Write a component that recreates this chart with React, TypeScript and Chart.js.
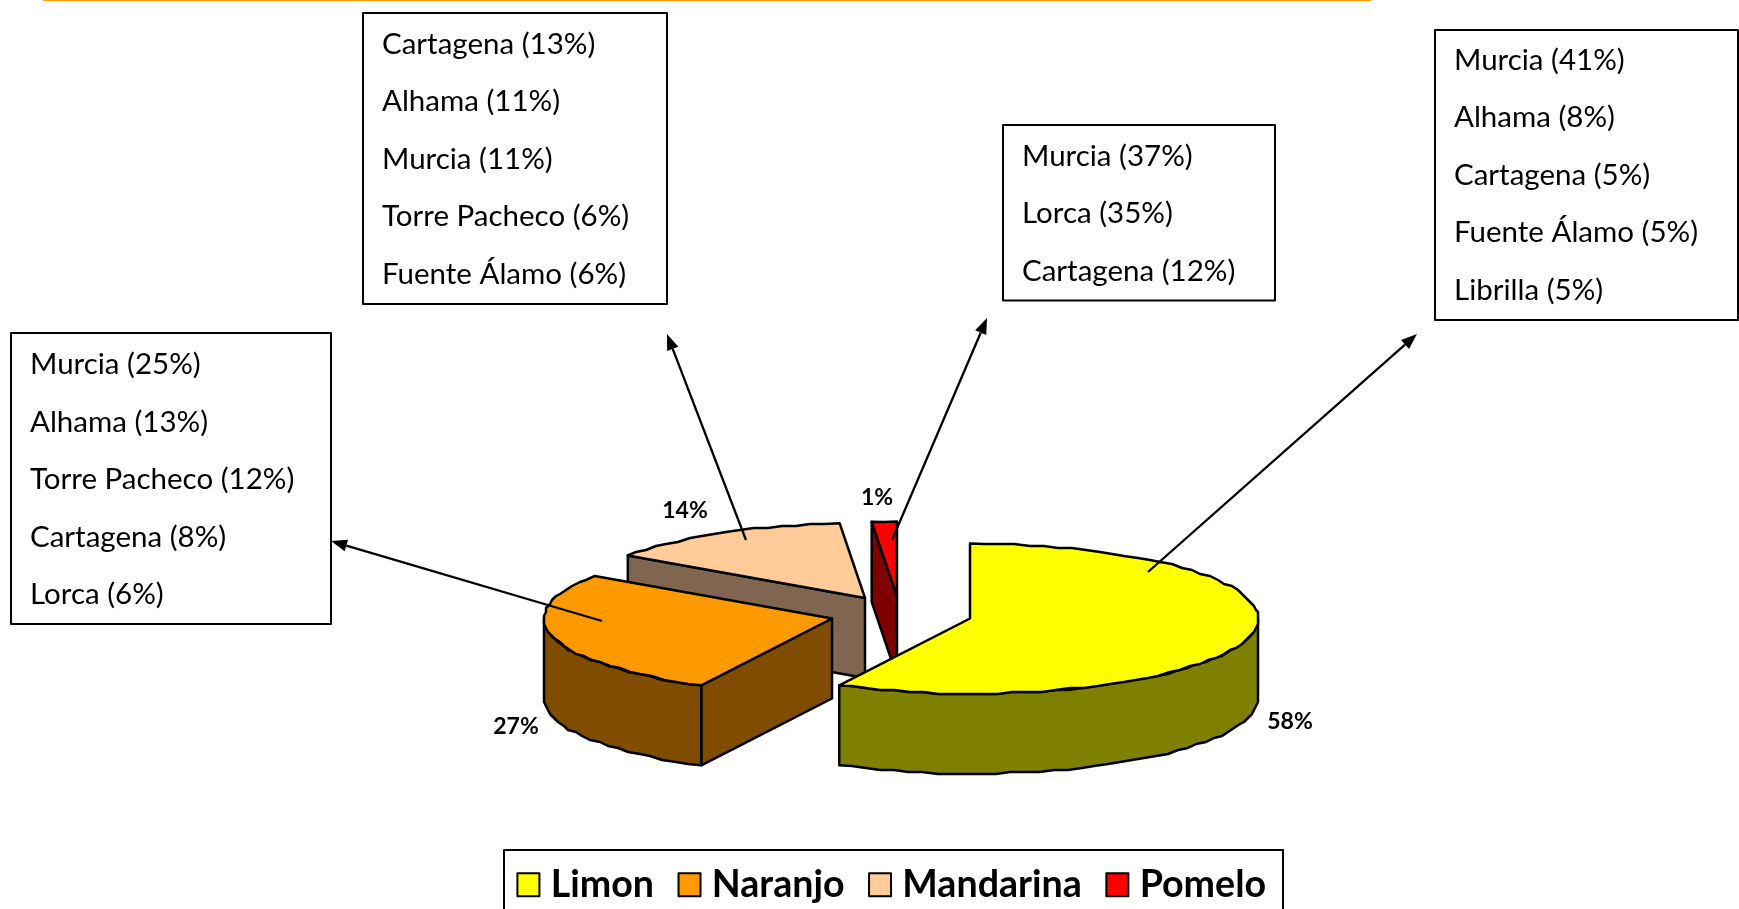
import React, { useEffect, useRef } from "react";
import { Chart, registerables } from "chart.js";

Chart.register(...registerables);

const categories = ["Limon", "Naranjo", "Mandarina", "Pomelo"];
const shares = [57.5, 27.1, 14, 1.4];
const topColors = ["#FFFF00", "#FF9900", "#FFCC99", "#FF0000"];
const wallColors = ["#808000", "#804D00", "#806650", "#800000"];

const limonTowns = ["Murcia (41%)", "Alhama (8%)", "Cartagena (5%)", "Fuente Álamo (5%)", "Librilla (5%)"];
const naranjoTowns = ["Murcia (25%)", "Alhama (13%)", "Torre Pacheco (12%)", "Cartagena (8%)", "Lorca (6%)"];
const mandarinaTowns = ["Cartagena (13%)", "Alhama (11%)", "Murcia (11%)", "Torre Pacheco (6%)", "Fuente Álamo (6%)"];
const pomeloTowns = ["Murcia (37%)", "Lorca (35%)", "Cartagena (12%)"];

const FONT = "Lato, Carlito, sans-serif";
const RADIUS = 288;
const SQUASH = 75 / 288;
const DEPTH = 80;

// Layout of each slice on the page
const sliceCentres = [
  [970, 618.5],
  [832, 618.5],
  [865, 598],
  [897, 596.5],
];
const valueLabelPos = [
  [1290, 722],
  [516, 726.5],
  [685, 510.5],
  [877, 498],
];
const paintOrder = [2, 3, 1, 0];

const callouts = [
  { lines: limonTowns, box: [1435, 30, 1738, 320], first: 60, from: [1148, 572], to: [1417, 334] },
  { lines: naranjoTowns, box: [11, 333, 331, 624], first: 364.5, from: [602, 621], to: [331, 541] },
  { lines: mandarinaTowns, box: [363, 13, 667, 304], first: 44, from: [746, 540], to: [667, 334] },
  { lines: pomeloTowns, box: [1003, 125, 1275, 300.5], first: 156, from: [892, 540], to: [987, 318] },
];
const LINE_STEP = 57.5;

function rimPoints(cx: number, cy: number, a0: number, a1: number) {
  const pts: number[][] = [];
  const n = Math.max(1, Math.ceil((a1 - a0) / (Math.PI / 60)));
  for (let i = 0; i <= n; i++) {
    const a = a0 + ((a1 - a0) * i) / n;
    let x = cx + RADIUS * Math.cos(a);
    let y = cy + RADIUS * SQUASH * Math.sin(a);
    if (i > 0 && i < n) {
      x = Math.round(x / 2) * 2;
      y = Math.round(y / 2) * 2;
    }
    pts.push([x, y]);
  }
  return pts;
}

function tracePoly(ctx: CanvasRenderingContext2D, pts: number[][], fill: string | null) {
  ctx.beginPath();
  pts.forEach((p, i) => (i ? ctx.lineTo(p[0], p[1]) : ctx.moveTo(p[0], p[1])));
  ctx.closePath();
  if (fill) {
    ctx.fillStyle = fill;
    ctx.fill();
  }
  ctx.strokeStyle = "#000";
  ctx.lineWidth = 2.5;
  ctx.lineJoin = "round";
  ctx.stroke();
}

function drawSlice(ctx: CanvasRenderingContext2D, arc: any, i: number) {
  const [cx, cy] = sliceCentres[i];
  const s = arc.startAngle;
  const e = arc.endAngle;
  const down = (p: number[]) => [p[0], p[1] + DEPTH];
  const at = (a: number) => [cx + RADIUS * Math.cos(a), cy + RADIUS * SQUASH * Math.sin(a)];

  // radial walls that face the viewer
  if (Math.cos(s) < -1e-6) {
    const p = at(s);
    tracePoly(ctx, [[cx, cy], p, down(p), [cx, cy + DEPTH]], wallColors[i]);
  }
  if (Math.cos(e) > 1e-6) {
    const p = at(e);
    tracePoly(ctx, [[cx, cy], p, down(p), [cx, cy + DEPTH]], wallColors[i]);
  }
  // outer rim on the near half of the ellipse
  const a0 = Math.max(s, 0);
  const a1 = Math.min(e, Math.PI);
  if (a1 > a0) {
    const top = rimPoints(cx, cy, a0, a1);
    tracePoly(ctx, [...top, ...top.slice().reverse().map(down)], wallColors[i]);
  }
  // top face: the library's own arc, flattened
  ctx.save();
  ctx.translate(cx, cy);
  ctx.scale(1, SQUASH);
  ctx.translate(-arc.x, -arc.y);
  arc.draw(ctx);
  ctx.restore();
  tracePoly(ctx, [[cx, cy], ...rimPoints(cx, cy, s, e)], topColors[i]);
}

function drawArrow(ctx: CanvasRenderingContext2D, from: number[], to: number[]) {
  const ang = Math.atan2(to[1] - from[1], to[0] - from[0]);
  const len = 16;
  const w = 6;
  const bx = to[0] - len * Math.cos(ang);
  const by = to[1] - len * Math.sin(ang);
  ctx.strokeStyle = "#000";
  ctx.lineWidth = 2.3;
  ctx.beginPath();
  ctx.moveTo(from[0], from[1]);
  ctx.lineTo(bx, by);
  ctx.stroke();
  ctx.fillStyle = "#000";
  ctx.beginPath();
  ctx.moveTo(to[0], to[1]);
  ctx.lineTo(bx - w * Math.sin(ang), by + w * Math.cos(ang));
  ctx.lineTo(bx + w * Math.sin(ang), by - w * Math.cos(ang));
  ctx.closePath();
  ctx.fill();
}

const pie3d = {
  id: "pie3d",
  beforeDatasetsDraw(chart: any) {
    const ctx: CanvasRenderingContext2D = chart.ctx;
    const arcs = chart.getDatasetMeta(0).data;
    const values = chart.data.datasets[0].data;
    ctx.save();

    // rule along the top of the page
    ctx.fillStyle = "#FF9900";
    ctx.fillRect(43, 0, 1328, 1);

    paintOrder.forEach((i) => drawSlice(ctx, arcs[i], i));

    // value labels
    ctx.fillStyle = "#000";
    ctx.font = `bold 23px ${FONT}`;
    ctx.textAlign = "center";
    ctx.textBaseline = "middle";
    values.forEach((v: number, i: number) => {
      ctx.fillText(`${Math.round(v)}%`, valueLabelPos[i][0], valueLabelPos[i][1]);
    });

    // call-out boxes and arrows
    ctx.textAlign = "left";
    ctx.font = `29.5px ${FONT}`;
    callouts.forEach((c) => {
      const [l, t, r, b] = c.box;
      ctx.fillStyle = "#fff";
      ctx.fillRect(l, t, r - l, b - t);
      ctx.strokeStyle = "#000";
      ctx.lineWidth = 2;
      ctx.strokeRect(l, t, r - l, b - t);
      ctx.fillStyle = "#000";
      c.lines.forEach((line, k) => ctx.fillText(line, l + 19, c.first + k * LINE_STEP));
      drawArrow(ctx, c.from, c.to);
    });

    // legend frame (open at the foot of the page) and swatches
    ctx.strokeStyle = "#000";
    ctx.lineWidth = 2;
    ctx.strokeRect(504, 850, 779, 80);
    const hit = chart.legend.legendHitBoxes;
    hit.forEach((h: any, i: number) => {
      const top = h.top + h.height / 2 - 12;
      ctx.fillStyle = topColors[i];
      ctx.fillRect(h.left + 1.5, top, 22, 23);
      ctx.strokeRect(h.left + 1.5, top, 22, 23);
    });

    ctx.restore();
    return false;
  },
};

export default function App() {
  const ref = useRef<HTMLCanvasElement>(null);
  useEffect(() => {
    const chart = new Chart(ref.current as HTMLCanvasElement, {
      type: "pie",
      data: {
        labels: categories,
        datasets: [
          {
            data: shares,
            backgroundColor: topColors,
            borderWidth: 0,
            radius: RADIUS,
          },
        ],
      },
      options: {
        animation: false,
        responsive: false,
        devicePixelRatio: 1,
        rotation: 0,
        layout: { padding: { left: 43, right: 0, top: 0, bottom: -5 } },
        plugins: {
          title: { display: false },
          tooltip: { enabled: false },
          legend: {
            display: true,
            position: "bottom",
            labels: {
              color: "#000",
              boxWidth: 16,
              boxHeight: 22,
              padding: 23,
              font: { family: FONT, weight: "bold", size: 37.6 },
              generateLabels(c: any) {
                return (Chart as any).overrides.pie.plugins.legend.labels
                  .generateLabels(c)
                  .map((item: any) => ({ ...item, fillStyle: "rgba(0,0,0,0)", strokeStyle: "rgba(0,0,0,0)", lineWidth: 0 }));
              },
            },
          },
        },
      },
      plugins: [pie3d],
    } as any);
    return () => chart.destroy();
  }, []);
  return (
    <div style={{ position: "fixed", inset: 0, background: "#fff", overflow: "hidden" }}>
      <canvas ref={ref} width={1739} height={909} style={{ display: "block" }} />
    </div>
  );
}
